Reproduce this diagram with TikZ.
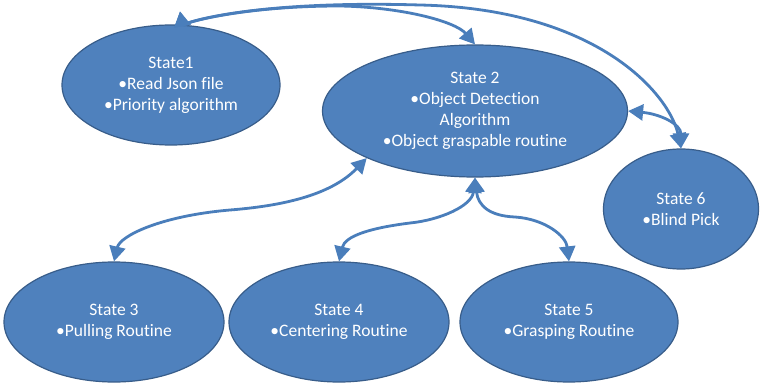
\documentclass[tikz,border=0pt]{standalone}
\usepackage{fontspec}
\setmainfont{Carlito}[Ligatures={NoCommon,NoContextual,NoRare}]
\usetikzlibrary{shapes.geometric,arrows.meta,calc}
\definecolor{statefill}{HTML}{4F81BD}
\definecolor{stateline}{HTML}{385D8A}
\definecolor{linkblue}{HTML}{4A7EBB}

\begin{document}
\begin{tikzpicture}[x=1pt,y=1pt,
  state/.style={ellipse, fill=statefill, draw=stateline, line width=1.2pt,
    inner sep=0pt, text=white, align=center,
    font=\fontsize{17.5}{21}\selectfont},
  tip/.tip={Triangle[length=15pt,width=16pt]},
  link/.style={draw=linkblue, line width=2.8pt, tip-tip}]

\fill[white] (0,0) rectangle (760,386);
\useasboundingbox (0,0) rectangle (760,386);

% states
\node[state, minimum width=218pt, minimum height=120pt] (s1) at (171,301)
  {State1\\•Read Json file\\•Priority algorithm};
\node[state, minimum width=305pt, minimum height=132pt] (s2) at (475,275)
  {State 2\\•Object Detection\\Algorithm\\•Object graspable routine};
\node[state, minimum width=155pt, minimum height=120pt] (s6) at (681,177)
  {State 6\\•Blind Pick};
\node[state, minimum width=220pt, minimum height=120pt] (s3) at (114,64)
  {State 3\\•Pulling Routine};
\node[state, minimum width=220pt, minimum height=120pt] (s4) at (339,64)
  {State 4\\•Centering Routine};
\node[state, minimum width=218pt, minimum height=120pt] (s5) at (569,64)
  {State 5\\•Grasping Routine};

% transitions
\coordinate (s1top) at ($(s1.north)+(9,13)$);
\draw[link] (s1top) .. controls ($(s1.north)+(11,1)$) and (240,380) .. (340,380)
  .. controls (400,379) and (455,365) .. (s2.north);
\draw[link] (s1top) .. controls ($(s1.north)+(11,1)$) and (250,386) .. (420,381)
  .. controls (600,377) and (670,290) .. (s6.north);
\draw[link] (s2.east) .. controls (660,272) and (681,262) .. (s6.north);
\draw[link] (s2.south west) .. controls (330,190) and (280,180) .. (230,176)
  .. controls (160,170) and (120,150) .. (s3.north);
\draw[link] (s2.south) .. controls (472,180) and (440,166) .. (410,163)
  .. controls (370,158) and (345,150) .. (s4.north);
\draw[link] (s2.south) .. controls (478,180) and (490,170) .. (515,169)
  .. controls (545,167) and (566,150) .. (s5.north);
\end{tikzpicture}
\end{document}
